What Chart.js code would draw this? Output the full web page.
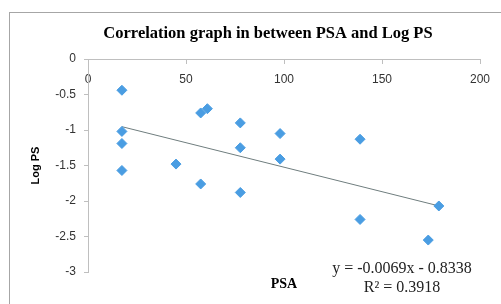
<!DOCTYPE html>
<html>
<head>
<meta charset="utf-8">
<script src="https://cdn.jsdelivr.net/npm/chart.js@4.4.1/dist/chart.umd.min.js"></script>
<style>
  html, body { margin: 0; padding: 0; background: #fff; }
  #wrap { width: 501px; height: 304px; }
</style>
</head>
<body>
<div id="wrap"><canvas id="myChartPsa" width="501" height="304"></canvas></div>
<script>
// values
var psa = [17.3, 17.3, 17.3, 17.3, 44.9, 57.5, 60.9, 57.5, 77.7, 77.7, 77.7, 98, 98, 138.8, 138.8, 179, 173.6];
var logPs = [-0.44, -1.02, -1.19, -1.57, -1.48, -0.76, -0.70, -1.76, -0.90, -1.25, -1.88, -1.05, -1.41, -1.13, -2.26, -2.07, -2.55];

// trendline as printed on the chart
var slope = [-0.0069];
var intercept = [-0.8338];
var rSquared = ["0.3918"];

var chartTitle = "Correlation graph in between PSA and Log PS";
var xTitle = "PSA";
var yTitle = "Log PS";

var punkte = [];
for (var i = 0; i < psa.length; i++) {
    punkte.push({x: psa[i], y: logPs[i]});
}

var xMin = Math.min.apply(null, psa);
var xMax = Math.max.apply(null, psa);
var trend = [
    {x: xMin, y: slope[0] * xMin + intercept[0]},
    {x: xMax, y: slope[0] * xMax + intercept[0]}
];

// frame, title, x title and equation
var extras = {
    id: 'extras',
    beforeDraw: function(chart) {
        var c = chart.ctx;
        c.save();
        c.strokeStyle = '#a6a6a6';
        c.lineWidth = 1;
        c.strokeRect(9.5, 12.5, 600, 400);
        c.restore();
    },
    afterDraw: function(chart) {
        var c = chart.ctx;
        c.save();
        c.fillStyle = '#000';
        c.textAlign = 'center';
        c.textBaseline = 'alphabetic';
        c.font = 'bold 16.5px "Liberation Serif"';
        c.fillText(chartTitle, 268, 38);
        c.font = 'bold 14px "Liberation Serif"';
        c.fillText(xTitle, (chart.chartArea.left + chart.chartArea.right) / 2, 288);
        c.fillStyle = '#222';
        c.font = '16px "Liberation Serif"';
        c.fillText('y = ' + slope[0] + 'x - ' + Math.abs(intercept[0]), 402, 273);
        c.fillText('R\u00b2 = ' + rSquared[0], 402, 292);
        c.restore();
    }
};

var ctx = document.getElementById('myChartPsa').getContext('2d');
var chart = new Chart(ctx, {
    type: 'scatter',
    data: {
        datasets: [{
            label: 'Log PS',
            data: punkte,
            backgroundColor: '#4a9de2',
            borderColor: '#4a9de2',
            pointStyle: 'rectRot',
            pointRadius: 5,
            pointHoverRadius: 5
        }, {
            label: 'Linear',
            type: 'line',
            data: trend,
            borderColor: '#6f7d7e',
            borderWidth: 1,
            pointRadius: 0,
            fill: false
        }]
    },
    plugins: [extras],
    options: {
        responsive: false,
        animation: false,
        layout: {
            padding: {left: 20, top: 59, right: 21, bottom: 32}
        },
        plugins: {
            legend: {display: false},
            tooltip: {enabled: false}
        },
        scales: {
            x: {
                type: 'linear',
                position: {y: 0},
                min: 0,
                max: 200,
                ticks: {
                    stepSize: 50,
                    padding: 9,
                    color: '#333',
                    font: {family: 'Liberation Sans', size: 12}
                },
                grid: {drawOnChartArea: false, tickLength: 4, color: '#bfbfbf'},
                border: {color: '#bfbfbf'}
            },
            y: {
                min: -3,
                max: 0,
                ticks: {
                    stepSize: 0.5,
                    padding: 8,
                    color: '#333',
                    font: {family: 'Liberation Sans', size: 12},
                    callback: function(v) { return String(Number(v.toFixed(1))); }
                },
                grid: {drawOnChartArea: false, tickLength: 4, color: '#bfbfbf'},
                border: {color: '#bfbfbf'},
                title: {
                    display: true,
                    text: yTitle,
                    color: '#000',
                    padding: {top: 9, bottom: 0},
                    font: {family: 'Liberation Sans', size: 11, weight: 'bold'}
                },
                afterFit: function(scale) {
                    scale.width = 68;
                }
            }
        }
    }
});
</script>
</body>
</html>
